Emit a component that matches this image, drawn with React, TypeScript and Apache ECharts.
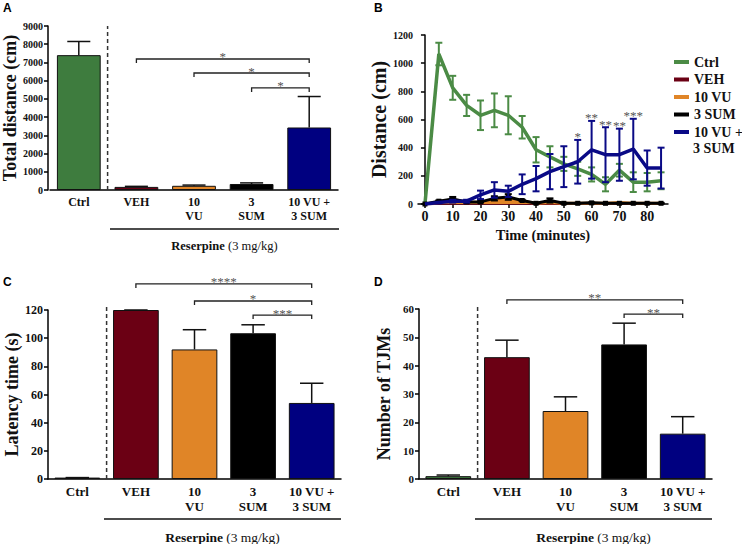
import React, { useEffect, useRef } from "react";
import * as echarts from "echarts";

// ---------- data ----------
const groupLabels = ["Ctrl", "VEH", "10\nVU", "3\nSUM", "10 VU +\n3 SUM"];
const totalDistance = [7400, 170, 230, 330, 3430];
const totalDistanceErr = [750, 30, 40, 60, 1700];
const latency = [1, 120, 92, 103.5, 54];
const latencyErr = [0, 0, 14, 6, 14];
const tjms = [1, 43, 24, 47.5, 16];
const tjmsErr = [0.4, 6, 5, 7.5, 6];

const minutes = [0, 5, 10, 15, 20, 25, 30, 35, 40, 45, 50, 55, 60, 65, 70, 75, 80, 85];
const ctrlTime = [0, 1065, 825, 700, 630, 665, 630, 545, 385, 335, 285, 250, 210, 140, 240, 155, 155, 165];
const ctrlTimeSem = [0, 80, 85, 75, 105, 120, 135, 80, 90, 75, 50, 50, 50, 50, 45, 70, 65, 60];
const vehTime = [0, 5, 5, 5, 5, 5, 5, 5, 3, 3, 3, 3, 3, 3, 3, 3, 3, 3];
const vuTime = [0, 10, 20, 15, 10, 25, 35, 20, 5, 10, 5, 5, 5, 5, 10, 5, 5, 5];
const sumTime = [0, 20, 35, 15, 15, 40, 50, 25, 5, 25, 5, 5, 8, 5, 5, 5, 5, 5];
const sumTimeSem = [0, 5, 15, 5, 5, 15, 20, 5, 3, 15, 3, 3, 3, 3, 3, 3, 3, 3];
const comboTime = [0, 10, 20, 20, 65, 100, 90, 140, 180, 230, 265, 300, 385, 350, 350, 390, 255, 255];
const comboTimeSem = [0, 5, 10, 10, 30, 55, 40, 70, 90, 125, 145, 155, 205, 195, 185, 215, 125, 145];
const starMinutes = [55, 60, 65, 70, 75];
const starLabels = ["*", "**", "**", "**", "***"];

const bracketsA = [
  { from: 1, to: 4, y: 7190, label: "*" },
  { from: 2, to: 4, y: 6420, label: "*" },
  { from: 3, to: 4, y: 5600, label: "*" },
];
const bracketsC = [
  { from: 1, to: 4, y: 138.5, label: "****" },
  { from: 2, to: 4, y: 126.4, label: "*" },
  { from: 3, to: 4, y: 116.4, label: "***" },
];
const bracketsD = [
  { from: 1, to: 4, y: 63.2, label: "**" },
  { from: 3, to: 4, y: 58.2, label: "**" },
];

const legendNames = ["Ctrl", "VEH", "10 VU", "3 SUM", "10 VU + 3 SUM"];

// ---------- styles ----------
const SERIF = "Liberation Serif";
const STAR = "#555555";
const colors = ["#3e7c3e", "#6b0014", "#e08527", "#000000", "#000080"];
const lineColors = ["#4b8b45", "#6b0014", "#e08527", "#000000", "#0a0a86"];

function starText(label: string, x: number, y: number) {
  return {
    type: "text",
    x,
    y,
    style: {
      text: "{s|" + label + "}",
      align: "center",
      verticalAlign: "middle",
      fill: STAR,
      rich: { s: { fontSize: 13, fontFamily: SERIF, fill: STAR, textFill: STAR, color: STAR } },
    },
  };
}

function barErrorRender(params: any, api: any) {
  const x = api.value(0);
  const m = api.value(1);
  const e = api.value(2);
  const p = api.coord([x, m]);
  const t = api.coord([x, m + e]);
  const half = api.size([1, 0])[0] * 0.2;
  return {
    type: "group",
    children: [
      { type: "line", shape: { x1: p[0], y1: p[1], x2: t[0], y2: t[1] }, style: { stroke: "#111", lineWidth: 1.5 } },
      { type: "line", shape: { x1: t[0] - half, y1: t[1], x2: t[0] + half, y2: t[1] }, style: { stroke: "#111", lineWidth: 1.5 } },
    ],
  };
}

function makeLineErrorRender(color: string) {
  return (params: any, api: any) => {
    const x = api.value(0);
    const m = api.value(1);
    const e = api.value(2);
    if (!e) return { type: "group", children: [] };
    const lo = api.coord([x, m - e]);
    const hi = api.coord([x, m + e]);
    const h = 3.5;
    const st = { stroke: color, lineWidth: 2 };
    return {
      type: "group",
      children: [
        { type: "line", shape: { x1: lo[0], y1: lo[1], x2: hi[0], y2: hi[1] }, style: st },
        { type: "line", shape: { x1: hi[0] - h, y1: hi[1], x2: hi[0] + h, y2: hi[1] }, style: st },
        { type: "line", shape: { x1: lo[0] - h, y1: lo[1], x2: lo[0] + h, y2: lo[1] }, style: st },
      ],
    };
  };
}

function makeBracketRender(brackets: any[]) {
  return (params: any, api: any) => {
    const b = brackets[params.dataIndex];
    const p1 = api.coord([b.from, b.y]);
    const p2 = api.coord([b.to, b.y]);
    return {
      type: "group",
      children: [
        {
          type: "polyline",
          shape: { points: [[p1[0], p1[1] + 4], [p1[0], p1[1]], [p2[0], p2[1]], [p2[0], p2[1] + 4]] },
          style: { stroke: "#222", fill: "none", lineWidth: 1.3 },
        },
        starText(b.label, (p1[0] + p2[0]) / 2, p1[1] - 2),
      ],
    };
  };
}

function separatorRender(params: any, api: any) {
  const base = api.coord([0, 0]);
  const top = api.coord([0, api.value(1)]);
  const x = base[0] + api.size([1, 0])[0] / 2;
  return {
    type: "line",
    shape: { x1: x, y1: base[1], x2: x, y2: top[1] },
    style: { stroke: "#333", lineWidth: 1.5, lineDash: [4, 3] },
  };
}

function starRender(params: any, api: any) {
  const i = params.dataIndex;
  const p = api.coord([api.value(0), api.value(1)]);
  return starText(starLabels[i], p[0], p[1] - 3);
}

const axisLine = { show: true, lineStyle: { color: "#000", width: 1.5 } };

function catAxis(gi: number, fontSize: number, margin: number) {
  return {
    type: "category",
    gridIndex: gi,
    data: groupLabels,
    axisLine,
    axisTick: { show: false },
    axisLabel: { interval: 0, fontFamily: SERIF, fontWeight: "bold", fontSize, lineHeight: fontSize + 2, color: "#111", margin },
  };
}

function valAxis(gi: number, max: number, interval: number, name: string, nameGap: number, fontSize: number, offset: number, labelSize: number) {
  return {
    type: "value",
    gridIndex: gi,
    min: 0,
    max,
    interval,
    offset,
    axisLine,
    axisTick: { show: true, length: 4, lineStyle: { color: "#000", width: 1.5 } },
    splitLine: { show: false },
    axisLabel: {
      fontFamily: SERIF,
      fontWeight: "bold",
      fontSize: labelSize,
      color: "#111",
      margin: 5,
      formatter: (v: number) => String(v),
    },
    name,
    nameLocation: "middle",
    nameRotate: 90,
    nameGap,
    nameTextStyle: { fontFamily: SERIF, fontWeight: "bold", fontSize, color: "#111" },
  };
}

function barPanel(gi: number, values: number[], errs: number[], brackets: any[], sepTop: number, barWidth: string) {
  return [
    {
      type: "bar",
      name: "bars" + gi,
      xAxisIndex: gi,
      yAxisIndex: gi,
      barWidth,
      data: values.map((v, i) => ({ value: v, itemStyle: { color: colors[i], borderColor: "#111", borderWidth: 1 } })),
    },
    {
      type: "custom",
      name: "err" + gi,
      xAxisIndex: gi,
      yAxisIndex: gi,
      renderItem: barErrorRender,
      encode: { x: 0, y: 1 },
      itemStyle: { color: "#111" },
      data: values.map((v, i) => [i, v, errs[i]]),
      z: 3,
    },
    {
      type: "custom",
      name: "brk" + gi,
      xAxisIndex: gi,
      yAxisIndex: gi,
      renderItem: makeBracketRender(brackets),
      encode: { x: 0, y: 1 },
      itemStyle: { color: STAR },
      data: brackets.map((b) => [b.from, b.y]),
      z: 4,
    },
    {
      type: "custom",
      name: "sep" + gi,
      xAxisIndex: gi,
      yAxisIndex: gi,
      renderItem: separatorRender,
      encode: { x: 0, y: 1 },
      itemStyle: { color: "#333" },
      data: [[0, sepTop]],
      z: 4,
    },
  ];
}

function reserpine(x1: number, x2: number, y: number, ty: number, size: number) {
  return [
    { type: "line", shape: { x1, y1: y, x2, y2: y }, style: { stroke: "#111", lineWidth: 1.3 } },
    {
      type: "text",
      x: (x1 + x2) / 2,
      y: ty,
      style: {
        text: "{b|Reserpine} {n|(3 mg/kg)}",
        align: "center",
        verticalAlign: "middle",
        rich: {
          b: { fontFamily: SERIF, fontWeight: "bold", fontSize: size, fill: "#111" },
          n: { fontFamily: SERIF, fontSize: size, fill: "#111" },
        },
      },
    },
  ];
}

function panelLetter(t: string, x: number, y: number) {
  return { type: "text", x, y, style: { text: t, fontFamily: "Liberation Sans", fontWeight: "bold", fontSize: 12, fill: "#000" } };
}

export default function App() {
  const ref = useRef<HTMLDivElement>(null);
  useEffect(() => {
    if (!ref.current) return;
    const chart = echarts.init(ref.current, undefined, { renderer: "svg" });

    const lineData = [ctrlTime, vehTime, vuTime, sumTime, comboTime];
    const lineSeriesOrder = [2, 1, 3, 0, 4];
    const lineSeries: any[] = lineSeriesOrder.map((k) => ({
      type: "line",
      name: legendNames[k],
      xAxisIndex: 1,
      yAxisIndex: 1,
      data: minutes.map((t, i) => [t, lineData[k][i]]),
      symbol: k === 3 ? "rect" : "none",
      symbolSize: 5,
      lineStyle: { color: lineColors[k], width: k === 0 || k === 4 ? 3.5 : 3 },
      itemStyle: { color: lineColors[k] },
      areaStyle: k === 2 ? { color: lineColors[2], opacity: 1 } : undefined,
      z: 2 + k,
    }));
    const errSets: [number[], number[], number][] = [
      [sumTime, sumTimeSem, 3],
      [ctrlTime, ctrlTimeSem, 0],
      [comboTime, comboTimeSem, 4],
    ];
    const lineErrSeries = errSets.map(([m, s, k]) => ({
      type: "custom",
      name: "lerr" + k,
      xAxisIndex: 1,
      yAxisIndex: 1,
      renderItem: makeLineErrorRender(lineColors[k]),
      encode: { x: 0, y: 1 },
      itemStyle: { color: lineColors[k] },
      data: minutes.map((t, i) => [t, m[i], s[i]]),
      z: 2 + k,
    }));
    const starSeries = {
      type: "custom",
      name: "stars",
      xAxisIndex: 1,
      yAxisIndex: 1,
      renderItem: starRender,
      encode: { x: 0, y: 1 },
      itemStyle: { color: STAR },
      data: starMinutes.map((t) => {
        const i = minutes.indexOf(t);
        return [t, comboTime[i] + comboTimeSem[i]];
      }),
      z: 10,
    };

    const tickVals = [0, 10, 20, 30, 40, 50, 60, 70, 80];

    const option: any = {
      animation: false,
      backgroundColor: "#fff",
      grid: [
        { left: 50, top: 26, width: 288, height: 164 },
        { left: 418, top: 35, width: 250, height: 169 },
        { left: 48, top: 310, width: 293, height: 169 },
        { left: 419, top: 309, width: 293, height: 170 },
      ],
      xAxis: [
        catAxis(0, 12, 5),
        {
          type: "value",
          gridIndex: 1,
          min: -2.5,
          max: 87.5,
          axisLine,
          splitLine: { show: false },
          axisTick: { show: true, length: 4, customValues: tickVals, lineStyle: { color: "#000", width: 1.5 } },
          axisLabel: { customValues: tickVals, fontFamily: SERIF, fontWeight: "bold", fontSize: 14, color: "#111", margin: 5 },
          name: "Time (minutes)",
          nameLocation: "middle",
          nameGap: 23,
          nameTextStyle: { fontFamily: SERIF, fontWeight: "bold", fontSize: 14.5, color: "#111" },
        },
        catAxis(2, 13, 5),
        catAxis(3, 13, 5),
      ],
      yAxis: [
        valAxis(0, 9000, 1000, "Total distance (cm)", 28, 18, 2, 10),
        valAxis(1, 1200, 200, "Distance (cm)", 25, 20, 0, 10),
        valAxis(2, 120, 20, "Latency time (s)", 24, 18, 0, 12),
        valAxis(3, 60, 10, "Number of TJMs", 26, 18, 0, 11),
      ],
      legend: {
        data: legendNames,
        orient: "vertical",
        left: 669,
        top: 50,
        itemWidth: 15,
        itemHeight: 4,
        itemGap: 3.5,
        itemTextGap: 5,
        icon: "rect",
        selectedMode: false,
        formatter: (n: string) => (n === "10 VU + 3 SUM" ? "10 VU +" : n),
        textStyle: { fontFamily: SERIF, fontWeight: "bold", fontSize: 14, lineHeight: 14, color: "#111" },
      },
      series: [
        ...barPanel(0, totalDistance, totalDistanceErr, bracketsA, 9000, "76%"),
        ...lineSeries,
        ...lineErrSeries,
        starSeries,
        ...barPanel(2, latency, latencyErr, bracketsC, 124, "78%"),
        ...barPanel(3, tjms, tjmsErr, bracketsD, 61.4, "78%"),
      ],
      graphic: [
        ...reserpine(110, 339, 229, 246, 12.5),
        ...reserpine(104, 341, 519, 537, 13.5),
        ...reserpine(475, 712, 519, 537, 13.5),
        panelLetter("A", 3, 2),
        panelLetter("B", 374, 2),
        panelLetter("C", 3, 276),
        panelLetter("D", 374, 276),
        {
          type: "text",
          x: 693,
          y: 148,
          style: { text: "3 SUM", fontFamily: SERIF, fontWeight: "bold", fontSize: 14, fill: "#111", verticalAlign: "middle" },
        },
      ],
    };
    chart.setOption(option);
    return () => chart.dispose();
  }, []);
  return <div ref={ref} style={{ position: "fixed", left: 0, top: 0, width: 742, height: 544, background: "#fff" }} />;
}
